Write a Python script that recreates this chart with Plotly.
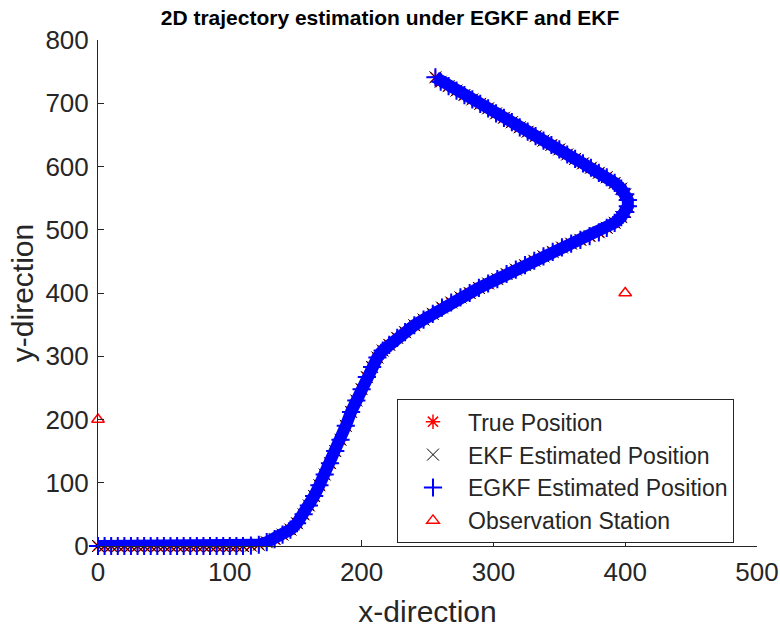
import plotly.graph_objects as go

# True trajectory (data units)
true_x = [0, 5, 10, 15, 20, 25, 30, 35, 40, 45, 50, 55, 60, 65, 70, 75, 80, 85, 90, 95, 100, 105, 110,
          116, 122, 128, 134, 140, 146, 151, 156, 160, 164, 168, 172, 176, 180, 184, 188, 192, 196, 200, 204,
          208, 212, 216, 221, 227, 233, 240, 247, 254, 261, 268, 275, 282, 289, 296, 303, 310, 317, 324, 331,
          338, 345, 352, 359, 366, 373, 380, 386, 392, 397, 400, 402, 402, 400, 397, 392, 386, 380, 374, 368,
          362, 356, 350, 344, 338, 332, 326, 320, 314, 308, 302, 296, 290, 284, 278, 272, 266, 260, 256]
true_y = [0, 0, 0, 0, 0, 0, 0, 0, 0, 0, 0, 0, 0, 0, 0, 0, 0, 0, 0, 0, 0, 0, 0,
          0.5, 2, 6, 11, 18, 26, 36, 50, 64, 79, 96, 113, 131, 150, 168, 190, 212, 230, 248, 267,
          283, 298, 309, 318, 329, 338, 349, 358, 367, 377, 385, 393, 400, 408, 415, 422, 430, 437, 444, 451,
          458, 465, 472, 478, 484, 490, 496, 503, 511, 520, 528, 537, 547, 556, 565, 574, 583, 590, 598, 605,
          612, 619, 627, 634, 641, 648, 655, 662, 670, 677, 684, 692, 699, 706, 713, 720, 727, 734, 741]

# Estimates coincide with the true path at this scale
ekf_x = list(true_x)
ekf_y = list(true_y)
egkf_x = list(true_x)
egkf_y = list(true_y)

station_x = [0, 400]
station_y = [200, 400]

x_ticks = [0, 100, 200, 300, 400, 500]
y_ticks = [0, 100, 200, 300, 400, 500, 600, 700, 800]

assert len(true_x) == len(true_y)

FONT = "Liberation Sans, Arial, Helvetica, sans-serif"
AX = "#262626"

fig = go.Figure()
fig.add_trace(go.Scatter(x=true_x, y=true_y, mode="markers", name="True Position",
                         marker=dict(symbol="asterisk-open", size=12, color="red",
                                     line=dict(color="red", width=1.5)),
                         cliponaxis=False))
fig.add_trace(go.Scatter(x=ekf_x, y=ekf_y, mode="markers", name="EKF Estimated Position",
                         marker=dict(symbol="x-thin-open", size=12, color="black",
                                     line=dict(color="black", width=1)),
                         cliponaxis=False))
fig.add_trace(go.Scatter(x=egkf_x, y=egkf_y, mode="lines", showlegend=False, hoverinfo="skip",
                         line=dict(color="blue", width=12), cliponaxis=False))
fig.add_trace(go.Scatter(x=egkf_x, y=egkf_y, mode="markers", name="EGKF Estimated Position",
                         marker=dict(symbol="cross-thin-open", size=13, color="blue",
                                     line=dict(color="blue", width=2)),
                         cliponaxis=False))
fig.add_trace(go.Scatter(x=station_x, y=station_y, mode="markers", name="Observation Station",
                         marker=dict(symbol="triangle-up-open", size=11, color="red",
                                     line=dict(color="red", width=1.5)),
                         cliponaxis=False))

fig.update_layout(
    width=780, height=628,
    margin=dict(l=98, r=23, t=40, b=82, pad=0, autoexpand=False),
    paper_bgcolor="white", plot_bgcolor="white",
    font=dict(family=FONT, color=AX),
    title=dict(text="<b>2D trajectory estimation under EGKF and EKF</b>",
               x=0.5, xanchor="center", xref="container", y=0.972, yref="container",
               yanchor="middle",
               font=dict(size=21, color="black", family=FONT)),
    xaxis=dict(range=[0, 500], tickvals=x_ticks, ticks="inside", ticklen=6, tickcolor=AX,
               showline=True, linecolor=AX, linewidth=1, showgrid=False, zeroline=False,
               automargin=False,
               tickfont=dict(size=26, color=AX), ticklabelstandoff=3,
               title=dict(text="x-direction", font=dict(size=30, color=AX), standoff=14)),
    yaxis=dict(range=[0, 800], tickvals=y_ticks, ticks="inside", ticklen=6, tickcolor=AX,
               showline=True, linecolor=AX, linewidth=1, showgrid=False, zeroline=False,
               automargin=False,
               tickfont=dict(size=26, color=AX), ticklabelstandoff=3,
               title=dict(text="y-direction", font=dict(size=30, color=AX), standoff=2)),
    legend=dict(x=0.4537, y=0.29, xanchor="left", yanchor="top",
                bgcolor="white", bordercolor=AX, borderwidth=1, itemwidth=60,
                font=dict(size=23, color=AX, family=FONT), tracegroupgap=0),
    showlegend=True,
)

fig.write_html("out.html")
